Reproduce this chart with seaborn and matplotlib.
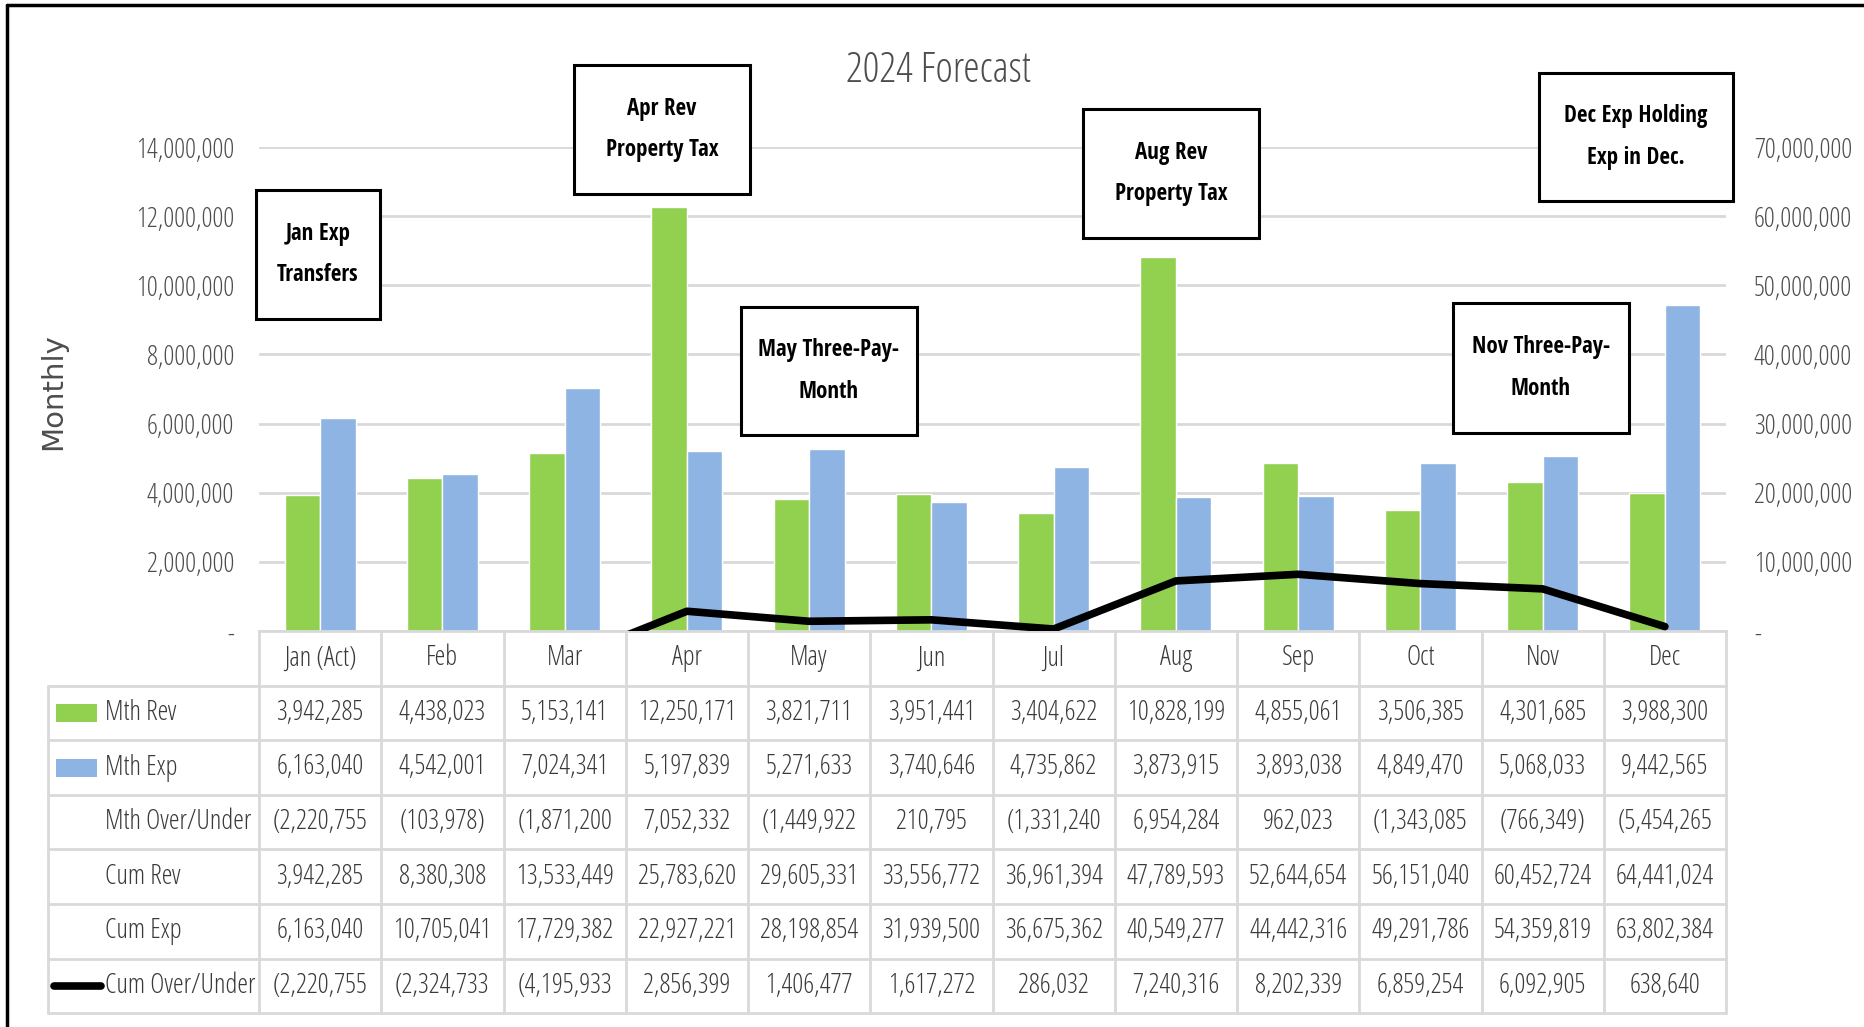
import numpy as np
import pandas as pd
import matplotlib
matplotlib.use("Agg")
import matplotlib.pyplot as plt
import seaborn as sns
from matplotlib import font_manager as fm
from matplotlib.font_manager import FontProperties
from matplotlib.patches import Rectangle
from matplotlib.lines import Line2D
from matplotlib.transforms import blended_transform_factory
from matplotlib.ticker import FuncFormatter, MultipleLocator

# ---------------- data ----------------
months = ["Jan (Act)", "Feb", "Mar", "Apr", "May", "Jun",
          "Jul", "Aug", "Sep", "Oct", "Nov", "Dec"]
mth_rev = [3942285, 4438023, 5153141, 12250171, 3821711, 3951441,
           3404622, 10828199, 4855061, 3506385, 4301685, 3988300]
mth_exp = [6163040, 4542001, 7024341, 5197839, 5271633, 3740646,
           4735862, 3873915, 3893038, 4849470, 5068033, 9442565]
mth_over = [-2220755, -103978, -1871200, 7052332, -1449922, 210795,
            -1331240, 6954284, 962023, -1343085, -766349, -5454265]
cum_rev = [3942285, 8380308, 13533449, 25783620, 29605331, 33556772,
           36961394, 47789593, 52644654, 56151040, 60452724, 64441024]
cum_exp = [6163040, 10705041, 17729382, 22927221, 28198854, 31939500,
           36675362, 40549277, 44442316, 49291786, 54359819, 63802384]
cum_over = [-2220755, -2324733, -4195933, 2856399, 1406477, 1617272,
            286032, 7240316, 8202339, 6859254, 6092905, 638640]
row_names = ["Mth Rev", "Mth Exp", "Mth Over/Under", "Cum Rev", "Cum Exp", "Cum Over/Under"]
title = "2024 Forecast"
y_label = "Monthly"
notes = ["Jan Exp\nTransfers", "Apr Rev\nProperty Tax", "May Three-Pay-\nMonth",
         "Aug Rev\nProperty Tax", "Nov Three-Pay-\nMonth", "Dec Exp Holding\nExp in Dec."]

# ---------------- style ----------------
GREEN = "#92D050"
BLUE = "#8EB4E3"
GRID = "#D9D9D9"
TICK = "#4D4D4D"
TXT = "#3A3A3A"
FS = 19.5

sns.set_theme(style="white")
plt.rcParams["font.family"] = ["Open Sans Condensed", "DejaVu Sans"]


def font_path(filename):
    for f in fm.fontManager.ttflist:
        if f.fname.endswith(filename):
            return f.fname
    return None


_light = font_path("OpenSans-CondLight.ttf")
_bold = font_path("OpenSans-CondBold.ttf")


def light(size):
    if _light:
        return FontProperties(fname=_light, size=size)
    return FontProperties(family=["DejaVu Sans"], size=size)


def bold(size):
    if _bold:
        return FontProperties(fname=_bold, size=size)
    return FontProperties(family=["DejaVu Sans"], weight="bold", size=size)


W, H = 1864, 1027
fig = plt.figure(figsize=(W / 100, H / 100), dpi=100)
fig.patch.set_facecolor("white")


def fx(x):
    return x / W


def fy(y):
    return 1 - y / H


L, R, T, B = 259, 1726, 147, 631
ax = fig.add_axes([fx(L), fy(B), fx(R) - fx(L), fy(T) - fy(B)])

df = pd.DataFrame({
    "month": months * 2,
    "series": ["Mth Rev"] * len(months) + ["Mth Exp"] * len(months),
    "value": mth_rev + mth_exp,
})
sns.barplot(data=df, x="month", y="value", hue="series", order=months,
            hue_order=["Mth Rev", "Mth Exp"], palette=[GREEN, BLUE],
            width=0.58, saturation=1, legend=False, ax=ax, zorder=2)

money = FuncFormatter(lambda v, p: "-" if abs(v) < 1 else f"{v:,.0f}")
ax.set_ylim(0, 14e6)
ax.set_xlim(-0.5, len(months) - 0.5)
ax.yaxis.set_major_locator(MultipleLocator(2e6))
ax.yaxis.set_major_formatter(money)
ax.grid(axis="y", color=GRID, lw=2)
ax.set_axisbelow(True)
for s in ["top", "left", "right"]:
    ax.spines[s].set_visible(False)
ax.spines["bottom"].set_color(GRID)
ax.spines["bottom"].set_linewidth(2)
ax.tick_params(axis="x", labelbottom=False, length=0)
ax.tick_params(axis="y", length=0, pad=18, labelcolor=TICK)
ax.set_xlabel("")
ax.set_ylabel("")

ax2 = ax.twinx()
sns.lineplot(x=np.arange(len(months)), y=cum_over, ax=ax2, color="black",
             lw=5.5, zorder=5)
ax2.set_ylim(0, 70e6)
ax2.set_xlim(-0.5, len(months) - 0.5)
ax2.yaxis.set_major_locator(MultipleLocator(10e6))
ax2.yaxis.set_major_formatter(money)
for s in ax2.spines.values():
    s.set_visible(False)
ax2.tick_params(axis="y", length=0, pad=20, labelcolor=TICK)
ax2.tick_params(axis="x", labelbottom=False, length=0)
ax2.set_xlabel("")
ax2.set_ylabel("")

for a in (ax, ax2):
    for lab in a.get_yticklabels():
        lab.set_fontproperties(light(FS))

# ---------------- title / y label ----------------
fig.text(fx(938), fy(71), title, ha="center", va="center", fontproperties=light(30), color=TICK)
fig.text(fx(53), fy(392), y_label, ha="center", va="center", rotation=90,
         fontsize=21, color=TICK, family=["DejaVu Sans"], fontweight="normal")

# ---------------- data table ----------------
tb = blended_transform_factory(ax.transData, fig.transFigure)
row_h = 54.6
bounds = [B + k * row_h for k in range(8)]
TL = 48
n = len(months)

for k in range(1, 8):
    fig.add_artist(Line2D([fx(TL), fx(R)], [fy(bounds[k])] * 2,
                          color=GRID, lw=2, transform=fig.transFigure))
for i in range(n + 1):
    fig.add_artist(Line2D([i - 0.5, i - 0.5], [fy(bounds[0]), fy(bounds[7])],
                          color=GRID, lw=2, transform=tb))
fig.add_artist(Line2D([fx(TL), fx(TL)], [fy(bounds[1]), fy(bounds[7])],
                      color=GRID, lw=2, transform=fig.transFigure))


def fmt(v):
    s = f"{abs(v):,}"
    if v < 0:
        s = "(" + s + ")"
        if len(s) > 10:
            s = s[:-1]
    return s


def mid(k):
    return fy((bounds[k] + bounds[k + 1]) / 2)


for i, m in enumerate(months):
    fig.text(i, mid(0), m, transform=tb, ha="center", va="center",
             fontproperties=light(FS), color=TXT)

rows = [mth_rev, mth_exp, mth_over, cum_rev, cum_exp, cum_over]
for r, vals in enumerate(rows):
    y = mid(r + 1)
    fig.text(fx(105), y, row_names[r], ha="left", va="center",
             fontproperties=light(FS), color=TXT)
    for i, v in enumerate(vals):
        fig.text(i, y, fmt(v), transform=tb, ha="center", va="center",
                 fontproperties=light(FS), color=TXT)

for r, col in [(0, GREEN), (1, BLUE)]:
    yc = (bounds[r + 1] + bounds[r + 2]) / 2
    fig.add_artist(Rectangle((fx(56), fy(yc + 9)), fx(97) - fx(56), 18 / H,
                             facecolor=col, edgecolor="none", transform=fig.transFigure))
yc = (bounds[6] + bounds[7]) / 2
fig.add_artist(Line2D([fx(54), fx(101)], [fy(yc)] * 2, color="black", lw=5.5,
                      solid_capstyle="round", transform=fig.transFigure))

# ---------------- annotation boxes ----------------
boxes = [(256, 190, 380, 319), (574, 65, 750, 194), (741, 307, 917, 435),
         (1083, 109, 1259, 238), (1453, 303, 1629, 433), (1539, 73, 1733, 201)]
for text, (x0, y0, x1, y1) in zip(notes, boxes):
    fig.add_artist(Rectangle((fx(x0), fy(y1)), fx(x1) - fx(x0), (y1 - y0) / H,
                             facecolor="white", edgecolor="black", lw=2.2,
                             transform=fig.transFigure, zorder=10))
    fig.text(fx((x0 + x1) / 2), fy((y0 + y1) / 2), text, ha="center", va="center",
             fontproperties=bold(16.5), color="black", linespacing=1.95, zorder=11)

# ---------------- outer frame ----------------
fig.add_artist(Line2D([fx(7), 1], [fy(5)] * 2, color="black", lw=2.5, transform=fig.transFigure))
fig.add_artist(Line2D([fx(7)] * 2, [fy(5), 0], color="black", lw=2.5, transform=fig.transFigure))

fig.savefig("out.png", dpi=100)
